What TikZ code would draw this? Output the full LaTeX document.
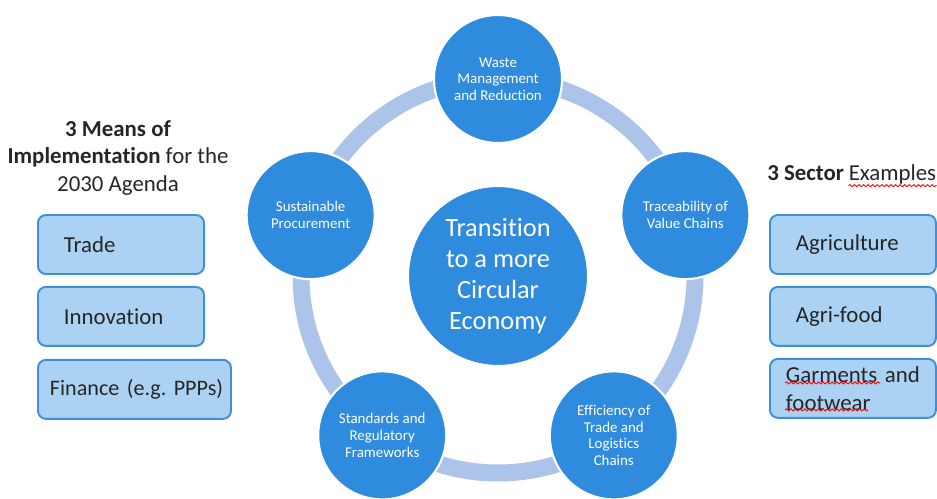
\documentclass[tikz,border=0pt]{standalone}
\usepackage{fontspec}
\setmainfont{Carlito}[Ligatures=NoCommon]
\usepackage{tikz}
\usetikzlibrary{positioning,decorations.pathmorphing}
\frenchspacing
\definecolor{hubblue}{RGB}{47,139,221}
\definecolor{ringblue}{RGB}{173,196,234}
\definecolor{boxfill}{RGB}{172,210,243}
\definecolor{boxedge}{RGB}{61,143,219}
\definecolor{textgray}{RGB}{38,38,38}
\def\ringradius{3.94}
\tikzstyle{hubstyle}=[circle, fill=hubblue, draw=white, line width=1.2pt,
text=white, align=center, minimum size=3.6cm,
font=\fontsize{15}{17.6}\selectfont]
\tikzstyle{petalstyle}=[circle, fill=hubblue, draw=white, line width=1.2pt,
text=white, align=center, minimum size=2.56cm, inner sep=1pt,
font=\fontsize{8.5}{9.4}\selectfont]
\tikzstyle{itemstyle}=[rectangle, rounded corners=0.16cm, draw=boxedge,
line width=1.1pt, fill=boxfill, minimum height=1.18cm, align=left,
text=textgray, font=\fontsize{13}{15.9}\selectfont]
\tikzstyle{headstyle}=[align=center, text=textgray,
font=\fontsize{13}{15.9}\selectfont]
\tikzstyle{spellline}=[red, line width=0.5pt,
decorate, decoration={snake, amplitude=0.6pt, segment length=2.6pt}]

\begin{document}
\begin{tikzpicture}
\useasboundingbox (0,0) rectangle (18.74,9.96);

% Ring and hub
\coordinate (ringcenter) at (9.96,4.44);
\draw[ringblue, line width=0.34cm] (ringcenter) circle (\ringradius);
\path (ringcenter) node[hubstyle] (hub) {Transition\\to a more\\Circular\\Economy};

% Petals
\path (ringcenter)+(90:\ringradius) node[petalstyle] (waste) {Waste\\Management\\and Reduction};
\path (ringcenter)+(18:\ringradius) node[petalstyle] (trace) {Traceability of\\Value Chains};
\path (ringcenter)+(-54:\ringradius) node[petalstyle] (effic) {Efficiency of\\Trade and\\Logistics\\Chains};
\path (ringcenter)+(234:\ringradius) node[petalstyle] (stand) {Standards and\\Regulatory\\Frameworks};
\path (ringcenter)+(162:\ringradius) node[petalstyle] (procure) {Sustainable\\Procurement};

% Means of implementation
\path (2.36,6.8) node[headstyle] (meanshead) {\textbf{3 Means of}\\\textbf{Implementation} for the\\2030 Agenda};
\path (0.74,5.07) node[itemstyle, anchor=west, inner xsep=0.52cm, text width=2.28cm] (trade) {Trade};
\node[itemstyle, below=0.22cm of trade.south west, anchor=north west, inner xsep=0.52cm, text width=2.28cm] (innov) {Innovation};
\node[itemstyle, below=0.24cm of innov.south west, anchor=north west, inner xsep=0.24cm, text width=3.38cm,
  font=\fontsize{12.6}{15.5}\selectfont] (finance) {\mbox{Finance (e.g. PPPs)}};

% Sector examples
\path (15.34,6.5) node[headstyle, anchor=west, inner xsep=0pt] (sectorhead) {\textbf{3 Sector}};
\node[headstyle, anchor=base west, inner sep=0pt] (examples) at ([xshift=0.23em]sectorhead.base east) {Examples};
\draw[spellline] ([yshift=-3pt]examples.base west) -- ([yshift=-3pt]examples.base east);
\path (15.38,5.07) node[itemstyle, anchor=west, inner xsep=0.52cm, text width=2.28cm] (agri) {Agriculture};
\node[itemstyle, below=0.22cm of agri.south west, anchor=north west, inner xsep=0.52cm, text width=2.28cm] (agrifood) {Agri-food};
\node[itemstyle, below=0.22cm of agrifood.south west, anchor=north west, inner xsep=0.32cm, text width=2.68cm] (garments) {Garments and\\footwear};
\draw[spellline] ([shift={(0.32,-0.5)}]garments.north west) -- ([shift={(2.22,-0.5)}]garments.north west);
\draw[spellline] ([shift={(0.32,-1.04)}]garments.north west) -- ([shift={(1.98,-1.04)}]garments.north west);

\end{tikzpicture}
\end{document}
